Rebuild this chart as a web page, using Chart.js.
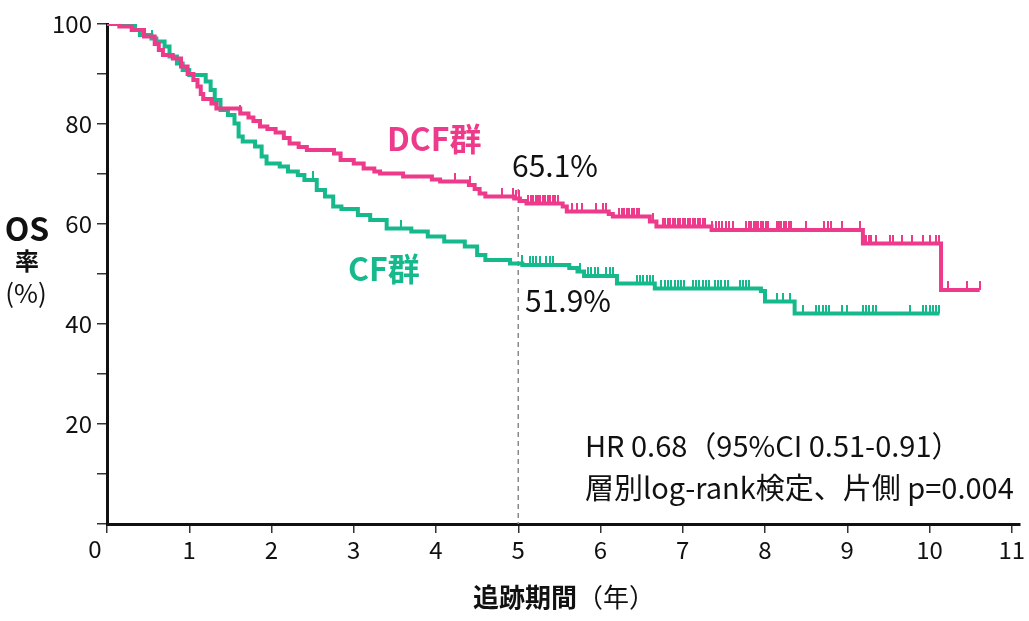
<!DOCTYPE html>
<html>
<head>
<meta charset="utf-8">
<script src="https://cdn.jsdelivr.net/npm/chart.js@4"></script>
<style>
  body { margin: 0; background: #fff; }
  #wrap { width: 1029px; height: 621px; }
</style>
</head>
<body>
<div id="wrap"><canvas id="myChart"></canvas></div>
<script>
// Courbes de survie (temps en années, survie en %)
const dcfTimes = [0, 0.15, 0.3, 0.45, 0.58, 0.63, 0.68, 0.8, 0.9, 0.98, 1.05, 1.1, 1.14, 1.17, 1.27, 1.33, 1.62, 1.72, 1.78, 1.86, 1.95, 2.05, 2.15, 2.22, 2.33, 2.43, 2.76, 2.84, 3.0, 3.12, 3.25, 3.32, 3.6, 3.95, 4.05, 4.4, 4.47, 4.53, 4.6, 4.95, 5.02, 5.1, 5.54, 5.59, 6.1, 6.15, 6.6, 6.68, 7.35, 9.19, 10.14, 10.61];
const dcfSurv  = [100, 99.5, 98.8, 97.5, 96, 94.8, 93.8, 93.1, 91.5, 90, 88.8, 87.5, 86, 85, 84.1, 83.1, 82.1, 81.3, 80.6, 79.5, 79, 78.3, 77.2, 76.1, 75.4, 74.8, 74.1, 72.8, 72.1, 71.1, 70.5, 70.1, 69.5, 68.9, 68.5, 67.8, 67, 66.1, 65.5, 65.1, 64.6, 64.1, 63.5, 62.5, 62, 61.5, 60.5, 59.5, 58.8, 56.1, 46.8, 46.8];

const cfTimes = [0, 0.34, 0.4, 0.54, 0.6, 0.7, 0.76, 0.85, 0.92, 1.0, 1.2, 1.26, 1.31, 1.38, 1.47, 1.55, 1.6, 1.65, 1.8, 1.88, 1.94, 2.1, 2.2, 2.32, 2.4, 2.55, 2.65, 2.75, 2.85, 3.05, 3.2, 3.4, 3.7, 3.9, 4.1, 4.35, 4.5, 4.6, 4.9, 5.05, 5.62, 5.72, 5.8, 6.2, 6.66, 7.95, 8.0, 8.36, 10.12];
const cfSurv  = [100, 98.8, 97.8, 97.1, 96.5, 95.5, 93.5, 92.1, 90.8, 89.8, 88.5, 86.8, 84.8, 82.8, 81.8, 80.1, 77.5, 76.5, 75.5, 73.5, 72.1, 71.5, 70.5, 69.8, 68.8, 66.8, 65.5, 63.5, 63, 61.8, 60.8, 59.1, 58.5, 57.5, 56.5, 55.5, 53.8, 52.8, 52.1, 51.8, 51.2, 50.5, 49.6, 48.1, 47.1, 46.6, 44.5, 42.1, 42.1];

// Temps des patients censurés
const dcfCensor = [1.62, 4.23, 4.41, 4.80, 4.93, 4.97, 5.01, 5.12, 5.15, 5.18, 5.21, 5.24, 5.27, 5.30, 5.33, 5.36, 5.39, 5.42, 5.45, 5.48, 5.65, 5.71, 5.77, 5.95, 6.03, 6.07, 6.23, 6.26, 6.29, 6.32, 6.35, 6.38, 6.41, 6.44, 6.47, 6.64, 6.76, 6.79, 6.82, 6.85, 6.88, 6.91, 6.94, 6.97, 7.0, 7.03, 7.06, 7.09, 7.12, 7.15, 7.18, 7.21, 7.24, 7.27, 7.36, 7.40, 7.44, 7.48, 7.52, 7.56, 7.61, 7.77, 7.80, 7.83, 7.86, 7.89, 7.92, 7.95, 7.98, 8.01, 8.04, 8.14, 8.17, 8.20, 8.23, 8.26, 8.29, 8.32, 8.50, 8.72, 8.76, 8.80, 8.93, 9.15, 9.20, 9.23, 9.26, 9.29, 9.35, 9.52, 9.56, 9.67, 9.79, 9.92, 10.0, 10.08, 10.12, 10.22, 10.45, 10.61];
const cfCensor = [0.55, 2.5, 3.58, 5.04, 5.14, 5.18, 5.22, 5.26, 5.34, 5.38, 5.42, 5.75, 5.85, 5.89, 5.93, 5.97, 6.07, 6.11, 6.15, 6.44, 6.48, 6.52, 6.56, 6.60, 6.64, 6.74, 6.78, 6.82, 6.86, 6.90, 6.94, 6.98, 7.02, 7.12, 7.16, 7.20, 7.24, 7.28, 7.32, 7.39, 7.43, 7.47, 7.51, 7.55, 7.69, 7.73, 7.77, 7.81, 8.14, 8.22, 8.30, 8.46, 8.62, 8.66, 8.70, 8.74, 8.78, 8.94, 9.0, 9.19, 9.23, 9.27, 9.31, 9.35, 9.76, 9.92, 9.96, 10.0, 10.04, 10.08, 10.12];

// Graduations des axes
const xTicks = [0, 1, 2, 3, 4, 5, 6, 7, 8, 9, 10, 11];
const yTicks = [0, 10, 20, 30, 40, 50, 60, 70, 80, 90, 100];
const yLabels = [20, 40, 60, 80, 100];

// Repère à 5 ans
const markTime = 5;
const markTop = 67;

const PINK = '#ee3a8a';
const GREEN = '#16b98c';
const FONT = '"Noto Sans CJK JP", "Noto Sans", sans-serif';

// Valeur de la courbe en escalier au temps t
function survAt(times, surv, t) {
    let v = surv[0];
    for (let i = 0; i < times.length; i++) {
        if (times[i] <= t) v = surv[i];
    }
    return v;
}

// Petit trait vertical pour les censures (seulement au-dessus du point)
function censorMark(color) {
    const c = document.createElement('canvas');
    c.width = 2;
    c.height = 18;
    const g = c.getContext('2d');
    g.fillStyle = color;
    g.fillRect(0, 0, 2, 9);
    return c;
}

const toPoints = (times, surv) => times.map((t, i) => ({ x: t, y: surv[i] }));
const censorPoints = (cens, times, surv) => cens.map((t) => ({ x: t, y: survAt(times, surv, t) }));

// Textes du graphe
const textPlugin = {
    id: 'texts',
    afterDraw(chart) {
        const ctx = chart.ctx;
        ctx.save();
        ctx.textBaseline = 'middle';

        ctx.textAlign = 'left';
        ctx.fillStyle = PINK;
        ctx.font = 'bold 32px ' + FONT;
        ctx.fillText('DCF群', 387, 139);
        ctx.fillStyle = GREEN;
        ctx.fillText('CF群', 348, 269);

        ctx.fillStyle = '#111';
        ctx.font = '30px ' + FONT;
        ctx.fillText('65.1%', 512, 166);
        ctx.fillText('51.9%', 525, 301);

        ctx.font = '29px ' + FONT;
        ctx.fillText('HR 0.68（95%CI 0.51-0.91）', 585, 446);
        ctx.fillText('層別log-rank検定、片側 p=0.004', 585, 488);

        // Titre de l'axe Y
        ctx.textAlign = 'center';
        ctx.font = 'bold 32px ' + FONT;
        ctx.fillText('OS', 27, 229);
        ctx.font = 'bold 24px ' + FONT;
        ctx.fillText('率', 27, 261);
        ctx.font = '26px ' + FONT;
        ctx.fillText('(%)', 26, 293);

        // Origine
        ctx.font = '24px ' + FONT;
        ctx.fillText('0', 95, 549);

        // Titre de l'axe X
        ctx.textAlign = 'left';
        ctx.font = 'bold 26px ' + FONT;
        const part1 = '追跡期間';
        const w1 = ctx.measureText(part1).width;
        ctx.font = '26px ' + FONT;
        const part2 = '（年）';
        const w2 = ctx.measureText(part2).width;
        const x0 = 564 - (w1 + w2) / 2;
        ctx.font = 'bold 26px ' + FONT;
        ctx.fillText(part1, x0, 597);
        ctx.font = '26px ' + FONT;
        ctx.fillText(part2, x0 + w1, 597);

        ctx.restore();
    }
};

const ctx = document.getElementById('myChart').getContext('2d');

const myChart = new Chart(ctx, {
    type: 'line',
    data: {
        datasets: [
            {
                label: 'DCF群',
                data: toPoints(dcfTimes, dcfSurv),
                borderColor: PINK,
                borderWidth: 4,
                stepped: true,
                pointRadius: 0,
                order: 1
            },
            {
                label: 'DCF censor',
                data: censorPoints(dcfCensor, dcfTimes, dcfSurv),
                showLine: false,
                pointStyle: censorMark(PINK),
                pointRadius: 4,
                order: 1
            },
            {
                label: 'CF群',
                data: toPoints(cfTimes, cfSurv),
                borderColor: GREEN,
                borderWidth: 4,
                stepped: true,
                pointRadius: 0,
                order: 2
            },
            {
                label: 'CF censor',
                data: censorPoints(cfCensor, cfTimes, cfSurv),
                showLine: false,
                pointStyle: censorMark(GREEN),
                pointRadius: 4,
                order: 2
            },
            {
                label: '5 ans',
                data: [{ x: markTime, y: markTop }, { x: markTime, y: 0 }],
                borderColor: '#888',
                borderWidth: 1.5,
                borderDash: [5, 4],
                pointRadius: 0,
                order: 3
            }
        ]
    },
    options: {
        responsive: true,
        maintainAspectRatio: false,
        animation: false,
        layout: { padding: { top: 24, right: 9, left: 0, bottom: 0 } },
        plugins: {
            legend: { display: false },
            tooltip: { enabled: false }
        },
        scales: {
            x: {
                type: 'linear',
                min: 0,
                max: 11.1,
                afterBuildTicks: (scale) => { scale.ticks = xTicks.map((v) => ({ value: v })); },
                afterFit: (scale) => { scale.height = 97; },
                ticks: {
                    callback: (v) => (v === 0 ? '' : String(v)),
                    font: { family: FONT, size: 24 },
                    color: '#111',
                    padding: 2,
                    maxRotation: 0
                },
                grid: { drawOnChartArea: false, drawTicks: true, tickLength: 9, color: '#333', lineWidth: 1.5 },
                border: { display: true, color: '#111', width: 3 }
            },
            y: {
                min: 0,
                max: 100,
                afterBuildTicks: (scale) => { scale.ticks = yTicks.map((v) => ({ value: v })); },
                afterFit: (scale) => { scale.width = 107; },
                ticks: {
                    callback: (v) => (yLabels.includes(v) ? String(v) : ''),
                    font: { family: FONT, size: 24 },
                    color: '#111',
                    padding: 5
                },
                grid: { drawOnChartArea: false, drawTicks: true, tickLength: 10, color: '#333', lineWidth: 1.5 },
                border: { display: true, color: '#111', width: 3 }
            }
        }
    },
    plugins: [textPlugin]
});
</script>
</body>
</html>
